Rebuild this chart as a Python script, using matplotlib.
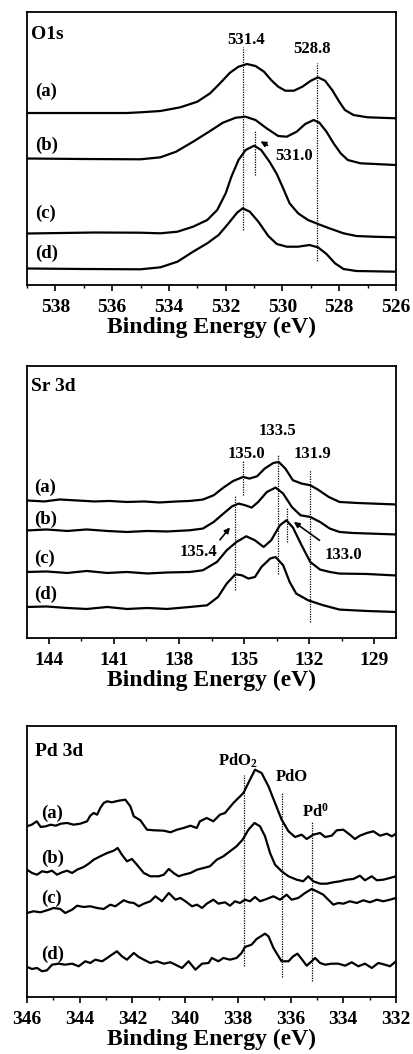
import numpy as np
import matplotlib.pyplot as plt
from matplotlib.ticker import MultipleLocator

plt.rcParams['font.family'] = ['Liberation Serif', 'DejaVu Serif']
plt.rcParams['font.weight'] = 'bold'
plt.rcParams['mathtext.fontset'] = 'custom'
plt.rcParams['mathtext.rm'] = 'Liberation Serif:bold'
plt.rcParams['mathtext.it'] = 'Liberation Serif:bold'
plt.rcParams['mathtext.bf'] = 'Liberation Serif:bold'

## O1s spectra (binding energy eV, intensity a.u.)
o1s_x_a = [539.0, 537.0, 535.5, 535.0, 534.3, 533.6, 533.0, 532.55, 532.2, 531.85, 531.55, 531.25,
           530.95, 530.65, 530.4, 530.15, 529.9, 529.6, 529.3, 529.0, 528.75, 528.5, 528.25, 528.0,
           527.8, 527.5, 527.0, 526.0]
o1s_y_a = [172, 172, 172, 172.7, 174, 177.7, 183.3, 191.7, 201.7, 212.3, 218.3, 221,
           219, 213.3, 205, 198.3, 194.3, 194.3, 198.3, 204.3, 207.7, 204.3, 195, 183.3,
           175, 170, 167.7, 166.7]
o1s_x_b = [539.0, 537.0, 535.0, 534.3, 533.75, 533.15, 532.55, 532.1, 531.65, 531.3, 530.95, 530.55,
           530.15, 529.85, 529.5, 529.2, 528.9, 528.7, 528.45, 528.2, 527.95, 527.7, 527.25, 526.0]
o1s_y_b = [126.5, 126, 125.7, 127.7, 133.3, 143.3, 154, 162.3, 167.3, 168.3, 165, 156.5,
           149, 148.3, 153.3, 161, 165, 162.3, 153.3, 141.7, 131.7, 125, 121.7, 120]
o1s_x_c = [539.0, 536.6, 535.0, 534.3, 533.7, 533.15, 532.65, 532.3, 532.0, 531.8, 531.55, 531.3,
           531.0, 530.75, 530.45, 530.2, 529.95, 529.75, 529.45, 529.1, 528.75, 528.35, 527.85,
           527.4, 526.8, 526.0]
o1s_y_c = [51.5, 52.5, 52.3, 51.7, 53.3, 58.3, 65, 75, 91.7, 108.3, 125, 135,
           139.3, 135, 123, 111, 95, 81.7, 71.7, 65, 61, 56.7, 51.7,
           49, 48.3, 47.7]
o1s_x_d = [539.0, 537.0, 535.0, 534.3, 533.7, 533.15, 532.65, 532.25, 531.9, 531.6, 531.4, 531.15,
           530.85, 530.5, 530.2, 529.85, 529.45, 529.05, 528.75, 528.45, 528.15, 527.85, 527.4, 526.0]
o1s_y_d = [16.5, 16, 15.7, 17.7, 23.3, 33.3, 41.7, 50, 61.7, 72.3, 76.7, 73.3,
           63.3, 49, 41, 38.3, 38.3, 40, 37.7, 31, 21.7, 16, 14, 13.3]

## Sr 3d spectra
sr_x_a = [145.0, 144.2, 143.5, 142.7, 141.9, 141.2, 140.4, 139.6, 138.9, 138.1, 137.5, 136.9, 136.4,
          135.95, 135.5, 135.05, 134.75, 134.4, 134.05, 133.65, 133.4, 133.1, 132.75, 132.35, 131.95,
          131.6, 131.1, 130.6, 129.8, 128.0]
sr_y_a = [137.5, 136.5, 138.5, 137.5, 136.5, 137, 136, 136.5, 135.5, 136.5, 137, 138.4, 142.7,
          150.4, 157, 161, 159.4, 161.7, 169.4, 175, 176, 169.4, 157.7, 154.4, 152.7,
          148.4, 141, 136, 135, 133.5]
sr_x_b = [145.0, 144.1, 143.15, 142.25, 141.3, 140.4, 139.45, 138.55, 137.5, 136.9, 136.4, 135.95,
          135.55, 135.25, 134.95, 134.65, 134.35, 133.95, 133.55, 133.2, 132.8, 132.4, 131.95, 131.5,
          131.05, 130.6, 130.0, 128.0]
sr_y_b = [107.5, 108.5, 107, 108.5, 107, 106, 107, 106.5, 107.7, 109.4, 116, 124.4,
          131.7, 134.4, 132.7, 130.4, 136, 146, 150.4, 144.4, 131, 122.7, 121, 116,
          109.4, 106, 105, 103.5]
sr_x_c = [145.0, 144.1, 143.15, 142.25, 141.3, 140.4, 139.45, 138.55, 137.5, 136.9, 136.25, 135.8,
          135.35, 134.9, 134.5, 134.1, 133.75, 133.35, 133.05, 132.75, 132.35, 131.95, 131.5,
          131.05, 130.6, 129.35, 128.0]
sr_y_c = [66, 66.5, 65, 67, 65, 66, 64.5, 65.5, 66, 67.7, 76, 87.7,
          96, 101.7, 97.7, 91, 97.7, 112.7, 117.7, 110.4, 92.7, 76, 68.4,
          66, 64.4, 64, 62.5]
sr_x_d = [145.0, 144.1, 143.15, 142.25, 141.3, 140.4, 139.45, 138.55, 137.5, 136.7, 136.2, 135.8,
          135.4, 135.1, 134.8, 134.5, 134.2, 133.8, 133.55, 133.2, 132.9, 132.6, 132.05, 131.35,
          130.6, 129.35, 128.0]
sr_y_d = [31, 31.5, 30, 29, 31, 29, 30, 29, 31, 32.7, 41, 54.4,
          63.7, 62.7, 59.4, 61, 71, 79.4, 81, 72.7, 56, 44.4, 37.7, 32.7,
          28.4, 27, 26]

## Pd 3d spectra
pd_x_a = [346.0, 345.82, 345.63, 345.48, 345.29, 345.10, 344.91, 344.72, 344.48, 344.23, 343.98,
          343.72, 343.60, 343.47, 343.34, 343.22, 343.09, 342.96, 342.78, 342.52, 342.27, 342.08,
          341.95, 341.70, 341.45, 341.19, 340.81, 340.56, 340.31, 340.06, 339.80, 339.56, 339.44,
          339.18, 338.93, 338.68, 338.49, 338.17, 337.79, 337.54, 337.35, 337.10, 336.84, 336.59,
          336.34, 336.08, 335.83, 335.58, 335.39, 335.14, 334.88, 334.69, 334.44, 334.25, 334.0,
          333.75, 333.56, 333.37, 333.11, 332.86, 332.61, 332.35, 332.16, 332.0]
pd_y_a = [170.7, 172.3, 175.7, 170, 170.7, 172.3, 171.3, 173.3, 174, 172.3, 173.3,
          175.7, 181.3, 184, 182.3, 189, 194, 195.7, 194.7, 196.3, 197.3, 190.7,
          180.7, 176.7, 167.3, 166.7, 166.3, 164.7, 167.3, 169, 171.3, 169, 175.7,
          179, 175.7, 182.3, 184, 194, 204, 217.3, 227.3, 224, 210.7, 194,
          177.3, 165.7, 160, 162.3, 158, 162.3, 164, 160, 161.3, 166.7, 167.3,
          162.3, 158, 161.3, 164, 165.7, 161.3, 163.3, 160.7, 163.3]
pd_x_b = [346.0, 345.81, 345.62, 345.43, 345.24, 345.05, 344.86, 344.67, 344.48, 344.29, 344.10,
          343.85, 343.66, 343.47, 343.22, 342.96, 342.71, 342.56, 342.40, 342.21, 342.02, 341.83,
          341.57, 341.32, 341.00, 340.81, 340.62, 340.44, 340.25, 340.06, 339.80, 339.55, 339.30,
          339.06, 338.80, 338.55, 338.30, 338.05, 337.82, 337.60, 337.37, 337.16, 336.97, 336.78,
          336.59, 336.34, 336.08, 335.77, 335.52, 335.33, 335.14, 334.88, 334.63, 334.38, 334.12,
          333.87, 333.62, 333.37, 333.18, 332.92, 332.73, 332.48, 332.23, 332.0]
pd_y_b = [127.3, 124, 122.3, 125.7, 124.7, 126.3, 122.3, 124.7, 126.3, 124, 127.3,
          130, 133.3, 137.3, 140.7, 144, 146.3, 149, 142.3, 135.7, 138, 132.3,
          124, 120.7, 120.7, 122.3, 128, 124, 120.7, 122.3, 124, 127.3, 129,
          130.7, 137.3, 140.7, 145.7, 150.7, 157.3, 167.3, 174, 170.7, 160.7, 144,
          132.3, 125.7, 120.7, 117.3, 115.7, 120.7, 115.7, 113.3, 113.3, 114.7, 115.7,
          117.3, 118, 121.3, 116.7, 120.7, 116.7, 117.3, 119, 120.7]
pd_x_c = [346.0, 345.75, 345.49, 345.24, 344.99, 344.74, 344.55, 344.29, 344.10, 343.85, 343.60,
          343.34, 343.09, 342.84, 342.65, 342.33, 342.14, 341.95, 341.76, 341.57, 341.32, 341.13,
          340.88, 340.62, 340.37, 340.18, 339.99, 339.74, 339.55, 339.36, 339.18, 338.93, 338.74,
          338.49, 338.30, 338.11, 337.92, 337.73, 337.54, 337.35, 337.16, 336.91, 336.65, 336.40,
          336.15, 335.96, 335.71, 335.45, 335.20, 335.01, 334.76, 334.57, 334.38, 334.19, 334.0,
          333.75, 333.49, 333.24, 332.99, 332.73, 332.48, 332.23, 332.0]
pd_y_c = [84, 85.7, 84.7, 86.7, 89, 88, 84, 87.3, 91.3, 90, 90.7,
          89, 88, 92.3, 90.7, 96.7, 94.7, 94, 90.7, 93.3, 95.7, 100.7,
          95.7, 104, 97.3, 99, 95.7, 90.7, 92.3, 89, 93.3, 97.3, 93.3,
          94.7, 91.3, 95.7, 94, 97.3, 95.7, 100, 95.7, 98, 100.7, 97.3,
          102.3, 97.3, 99, 104, 108, 105.7, 102.3, 97.3, 92.3, 94, 93.3,
          95.7, 94, 96.7, 94.7, 97.3, 95.7, 97.3, 99]
pd_x_d = [346.0, 345.81, 345.62, 345.43, 345.24, 345.05, 344.80, 344.55, 344.29, 344.04, 343.79,
          343.60, 343.41, 343.15, 342.96, 342.78, 342.59, 342.40, 342.21, 341.95, 341.76, 341.57,
          341.32, 341.07, 340.81, 340.56, 340.37, 340.12, 339.87, 339.61, 339.36, 339.11, 338.99,
          338.74, 338.55, 338.30, 338.05, 337.86, 337.73, 337.48, 337.29, 336.97, 336.84, 336.65,
          336.46, 336.34, 336.08, 335.90, 335.74, 335.58, 335.39, 335.20, 335.07, 334.88, 334.69,
          334.44, 334.19, 333.93, 333.68, 333.43, 333.18, 332.92, 332.67, 332.42, 332.23, 332.0]
pd_y_d = [30, 28, 29, 25.7, 26.7, 32.3, 33.3, 32.3, 33.3, 30.7, 35.7,
          34, 37.3, 35.7, 39, 42.3, 45.7, 40.7, 37.3, 44, 40, 37.3,
          34, 35.7, 33.3, 34.7, 32.3, 29, 35.7, 27.3, 33.3, 34, 39,
          35.7, 39, 37.3, 39, 44, 50, 52.3, 58, 63.3, 60.7, 49,
          40.7, 35.7, 35.7, 40.7, 43.3, 38, 31.3, 35.7, 39, 34, 32.3,
          33.3, 33.3, 31.3, 34.7, 30.7, 33.3, 29, 34, 32.3, 30.7, 35.7]

sample_labels = ['(a)', '(b)', '(c)', '(d)']

fig = plt.figure(figsize=(4.13, 10.54), dpi=100)
ax1 = fig.add_axes([0.0654, 0.7296, 0.8935, 0.2590])
ax2 = fig.add_axes([0.0654, 0.3947, 0.8935, 0.2581])
ax3 = fig.add_axes([0.0654, 0.0541, 0.8935, 0.2571])


def setup(ax, curves, xlim, ytop, major, minor, pad):
    for x, y in curves:
        ax.plot(x, y, color='k', lw=1.6, solid_joinstyle='round')
    ax.set_xlim(*xlim)
    ax.set_ylim(0, ytop)
    ax.xaxis.set_major_locator(MultipleLocator(major))
    ax.xaxis.set_minor_locator(MultipleLocator(minor))
    ax.set_yticks([])
    ax.tick_params(axis='x', which='major', direction='out', length=4, width=1.2,
                   labelsize=14, pad=pad)
    ax.tick_params(axis='x', which='minor', direction='out', length=2.5, width=1.0)
    for s in ax.spines.values():
        s.set_linewidth(1.3)
    ax.set_xlabel('Binding Energy (eV)', fontsize=17, fontweight='bold', labelpad=1)


def vline(ax, x, y0, y1):
    ax.plot([x, x], [y0, y1], color='k', lw=0.9, ls=(0, (1, 1)))


# --- O1s ---
setup(ax1, [(o1s_x_a, o1s_y_a), (o1s_x_b, o1s_y_b), (o1s_x_c, o1s_y_c), (o1s_x_d, o1s_y_d)],
      (539, 526), 273, 2, 1, 6)
vline(ax1, 531.4, 55, 238)
vline(ax1, 528.8, 24, 222)
vline(ax1, 530.97, 110, 155)
ax1.text(531.3, 245, '531.4', fontsize=12, ha='center', va='center')
ax1.text(528.95, 236, '528.8', fontsize=12, ha='center', va='center')
ax1.text(529.6, 129, '531.0', fontsize=12, ha='center', va='center')
ax1.annotate('', xy=(530.86, 145), xytext=(530.44, 138.3),
             arrowprops=dict(arrowstyle='-|>', lw=1.2, color='k', mutation_scale=8))
ax1.text(538.85, 251, 'O1s', fontsize=14, ha='left', va='center')
for lab, yy in zip(sample_labels, [194, 140, 72, 32]):
    ax1.text(538.7, yy, lab, fontsize=13.5, ha='left', va='center')

# --- Sr 3d ---
setup(ax2, [(sr_x_a, sr_y_a), (sr_x_b, sr_y_b), (sr_x_c, sr_y_c), (sr_x_d, sr_y_d)],
      (145, 128), 272, 3, 1.5, 6)
vline(ax2, 135.05, 142.7, 177.7)
vline(ax2, 133.45, 64.4, 182.7)
vline(ax2, 131.95, 16, 168.4)
vline(ax2, 135.4, 47.7, 142.7)
vline(ax2, 133.04, 96, 131)
ax2.text(133.45, 207, '133.5', fontsize=12, ha='center', va='center')
ax2.text(134.88, 183.7, '135.0', fontsize=12, ha='center', va='center')
ax2.text(131.84, 183.7, '131.9', fontsize=12, ha='center', va='center')
ax2.text(137.1, 86, '135.4', fontsize=12, ha='center', va='center')
ax2.text(130.4, 82.7, '133.0', fontsize=12, ha='center', va='center')
ax2.annotate('', xy=(135.57, 112.7), xytext=(136.19, 96),
             arrowprops=dict(arrowstyle='-|>', lw=1.2, color='k', mutation_scale=8))
ax2.annotate('', xy=(132.81, 117.7), xytext=(131.42, 96),
             arrowprops=dict(arrowstyle='-|>', lw=1.2, color='k', mutation_scale=8))
ax2.text(144.8, 251, 'Sr 3d', fontsize=14, ha='left', va='center')
for lab, yy in zip(sample_labels, [151, 118.7, 79.3, 43.7]):
    ax2.text(144.65, yy, lab, fontsize=13.5, ha='left', va='center')

# --- Pd 3d ---
setup(ax3, [(pd_x_a, pd_y_a), (pd_x_b, pd_y_b), (pd_x_c, pd_y_c), (pd_x_d, pd_y_d)],
      (346, 332), 271, 2, 1, 6)
vline(ax3, 337.77, 30.7, 222.3)
vline(ax3, 336.31, 20, 204)
vline(ax3, 335.17, 15.7, 174.7)
ax3.text(337.98, 235.7, 'PdO$_2$', fontsize=12, ha='center', va='center')
ax3.text(335.96, 220, 'PdO', fontsize=12, ha='center', va='center')
ax3.text(335.07, 185.7, 'Pd$^0$', fontsize=12, ha='center', va='center')
ax3.text(345.7, 245.7, 'Pd 3d', fontsize=14, ha='left', va='center')
for lab, yy in zip(sample_labels, [184, 139, 99, 42.3]):
    ax3.text(345.45, yy, lab, fontsize=13.5, ha='left', va='center')

fig.savefig('out.png', dpi=100)
